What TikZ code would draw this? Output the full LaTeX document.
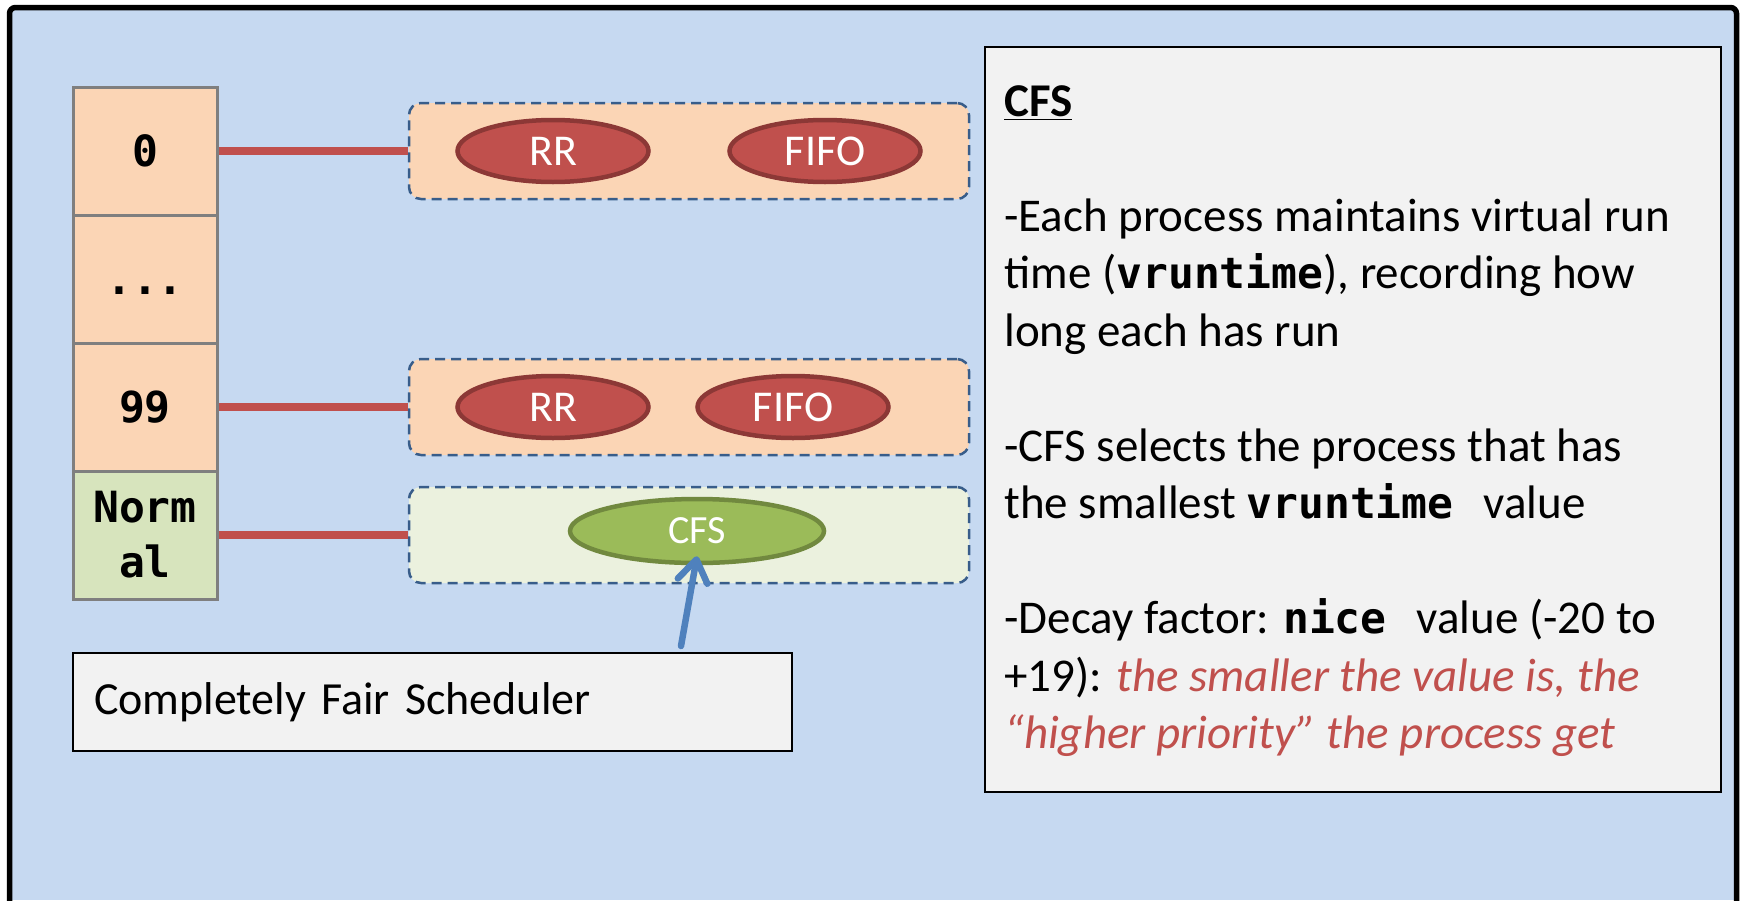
\documentclass[tikz,border=0pt]{standalone}
\usepackage{fontspec}
\setmainfont{Carlito}
\newfontfamily\monofam{DejaVu Sans Mono}
\usetikzlibrary{shapes.geometric,arrows.meta}
\definecolor{bgblue}{HTML}{C6D9F1}
\definecolor{peach}{HTML}{FBD5B5}
\definecolor{lgreen}{HTML}{D7E4BD}
\definecolor{palegreen}{HTML}{EBF1DE}
\definecolor{dashblue}{HTML}{385D8A}
\definecolor{redfill}{HTML}{C0504D}
\definecolor{redborder}{HTML}{8C3836}
\definecolor{greenfill}{HTML}{9BBB59}
\definecolor{greenborder}{HTML}{71893F}
\definecolor{arrowblue}{HTML}{4F81BD}
\definecolor{boxgray}{HTML}{F2F2F2}
\definecolor{cellgray}{HTML}{7F7F7F}
\newcommand{\codeb}[1]{{\fontsize{21.5pt}{28.75pt}\selectfont\monofam\bfseries #1}}
\begin{document}
\begin{tikzpicture}[x=0.5pt,y=-0.5pt,
  cellbase/.style={draw=cellgray, line width=1.5pt, minimum width=72pt, minimum height=64pt, inner sep=0pt,
    font=\fontsize{21.5pt}{27.5pt}\selectfont\monofam\bfseries},
  cell/.style={cellbase, text height=15.5pt, text depth=0pt},
  cellml/.style={cellbase, align=center},
  group/.style={draw=dashblue, dash pattern=on 5pt off 3pt, line width=1.25pt, rounded corners=6pt,
    minimum width=280pt, minimum height=48pt, inner sep=0pt},
  redproc/.style={ellipse, draw=redborder, fill=redfill, line width=2.25pt, minimum width=95.5pt,
    minimum height=31pt, inner sep=0pt, text=white, font=\fontsize{22pt}{24pt}\selectfont},
  greenproc/.style={ellipse, draw=greenborder, fill=greenfill, line width=2.25pt, minimum width=127pt,
    minimum height=32pt, inner sep=0pt, text=white, font=\fontsize{20pt}{22pt}\selectfont},
  link/.style={draw=redfill, line width=3.75pt},
  ptr/.style={draw=arrowblue, line width=3.25pt, line cap=round,
    -{Straight Barb[length=11pt, width=15pt, line cap=round, line join=round]}},
  textbox/.style={draw=black, line width=1pt, fill=boxgray}
]
\useasboundingbox (0,0) rectangle (1741,900);
\fill[bgblue] (9.5,7.5) rectangle (1736.5,900);
\draw[line width=2.75pt, rounded corners=3pt] (9.5,910) -- (9.5,7.5) -- (1736.5,7.5) -- (1736.5,910);

% priority column
\node[cell, fill=peach] (c0) at (145,151) {0};
\node[cell, fill=peach] (cdots) at (145,279) {...};
\node[cell, fill=peach] (c99) at (145,407) {99};
\node[cellml, fill=lgreen] (cnorm) at (145,535) {Norm\\al};

% groups
\node[group, fill=peach] (g0) at (689,151) {};
\node[group, fill=peach] (g99) at (689,407) {};
\node[group, fill=palegreen] (gn) at (689,535) {};

% connectors
\draw[link] (c0.east) -- (g0.west);
\draw[link] (c99.east) -- (g99.west);
\draw[link] (cnorm.east) -- (gn.west);

% processes
\node[redproc] (rr0) at (553,151) {RR};
\node[redproc] (ff0) at (825,151) {FIFO};
\node[redproc] (rr99) at (553,407) {RR};
\node[redproc] (ff99) at (793,407) {FIFO};
\node[greenproc] (cfs) at (697,531) {CFS};

% scheduler label
\node[textbox, minimum width=359.5pt, minimum height=49pt, text width=338.5pt, inner xsep=10.5pt,
  inner ysep=0pt, align=left, font=\fontsize{23pt}{28pt}\selectfont] (sched) at (432.5,702)
  {Completely Fair Scheduler};
\draw[ptr] ([xshift=124.25pt,yshift=3pt]sched.north) -- ([yshift=4.5pt]cfs.south);

% info box
\node[textbox, minimum width=368pt, minimum height=372.5pt, inner sep=0pt] (info) at (1353,419.5) {};
\node[anchor=north west, align=left, inner sep=0pt, font=\fontsize{23.5pt}{28.75pt}\selectfont]
  (infotext) at ([xshift=10pt,yshift=-19.5pt]info.north west)
  {\underline{\textbf{CFS}}\\[28.75pt]
   -Each process maintains virtual run\\
   time (\codeb{vruntime}), recording how\\
   long each has run\\[28.75pt]
   -CFS selects the process that has\\
   the smallest \codeb{vruntime}\hspace{15pt}value\\[28.75pt]
   -Decay factor: \codeb{nice}\hspace{15pt}value (-20 to\\
   +19): \textcolor{redfill}{\itshape the smaller the value is, the}\\
   \textcolor{redfill}{\itshape “higher priority” the process get}};
\end{tikzpicture}
\end{document}
